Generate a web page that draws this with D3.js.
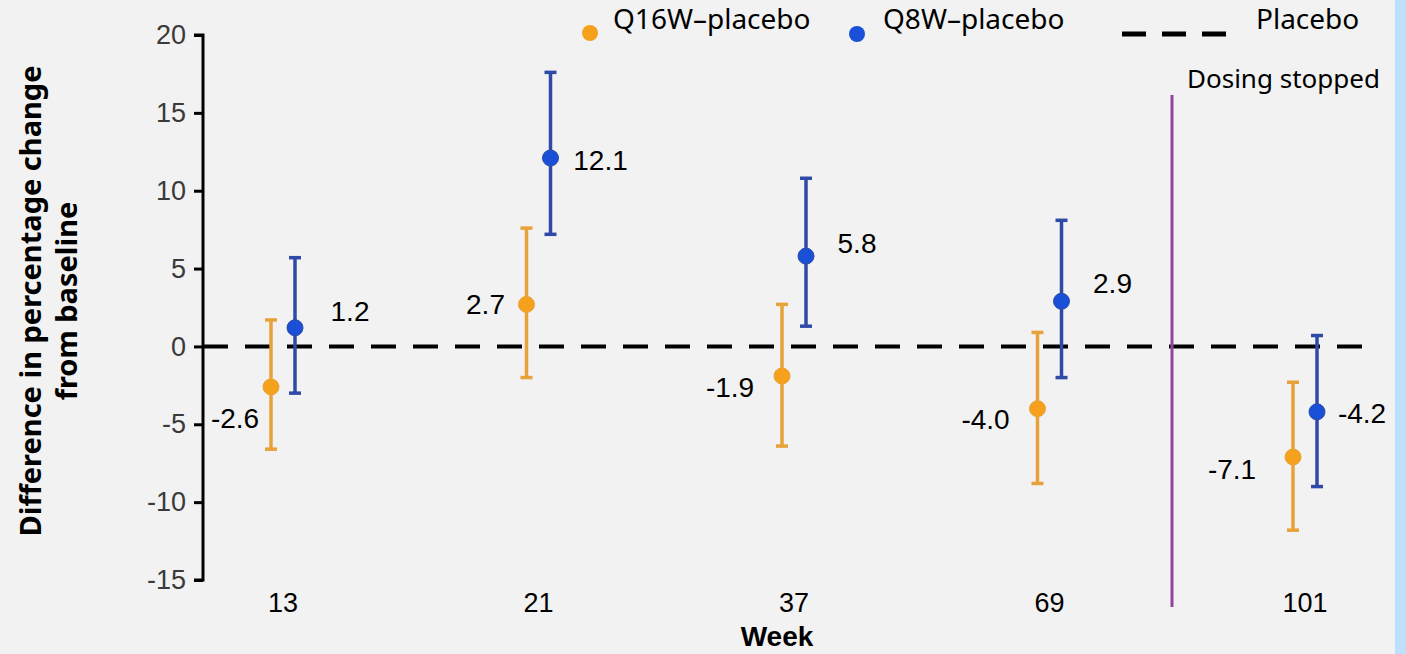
<!DOCTYPE html>
<html>
<head>
<meta charset="utf-8">
<script src="https://cdn.jsdelivr.net/npm/d3@7"></script>
<style>
  html, body { margin: 0; padding: 0; background: #f2f2f2; }
  svg { display: block; }
</style>
</head>
<body>
<div id="chart"></div>
<script>
// data
const weeks = ["13", "21", "37", "69", "101"]
const q16Est = [-2.6, 2.7, -1.9, -4.0, -7.1]
const q16Low = [-6.6, -2.0, -6.4, -8.8, -11.8]
const q16High = [1.7, 7.6, 2.7, 0.9, -2.3]
const q8Est = [1.2, 12.1, 5.8, 2.9, -4.2]
const q8Low = [-3.0, 7.2, 1.3, -2.0, -9.0]
const q8High = [5.7, 17.6, 10.8, 8.1, 0.7]
const yTicks = [-15, -10, -5, 0, 5, 10, 15, 20]

// label placement relative to each marker (layout only)
const q16LabelOff = [[-36, 31], [-41, 0], [-52, 11], [-52, 10], [-61, 12]]
const q8LabelOff = [[55, -17], [50, 2], [51, -13], [51, -18], [45, 1]]

const width = 1406, height = 654
const orange = "#f5a11c", orangeBar = "#e8a23a"
const blue = "#1a4fd8", blueBar = "#2e4aa6"
const numFont = "'Liberation Sans', Arial, sans-serif"
const textFont = "'Noto Sans', sans-serif"

const svg = d3.select("#chart").append("svg")
    .attr("width", width)
    .attr("height", height)

svg.append("rect").attr("width", width).attr("height", height).attr("fill", "#f2f2f2")
// light blue strip at the right edge
svg.append("rect").attr("x", 1395).attr("y", 0).attr("width", 11).attr("height", height).attr("fill", "#bfe0fa")

const x = d3.scalePoint().domain(weeks).range([283, 1305])
const y = d3.scaleLinear().domain([-15, 20]).range([580, 35])

// y axis
const yAxis = svg.append("g")
    .attr("transform", "translate(203,0)")
    .call(d3.axisLeft(y).tickValues(yTicks).tickSize(9).tickPadding(8).tickFormat(d => String(d)))
yAxis.select(".domain").attr("d", "M-9," + y(20) + "H0V" + y(-15) + "H-9").attr("stroke", "#000").attr("stroke-width", 3).attr("fill", "none")
yAxis.selectAll(".tick line").attr("stroke", "#000").attr("stroke-width", 3)
yAxis.selectAll(".tick text")
    .attr("fill", "#3a3a3a")
    .style("font-family", numFont)
    .style("font-size", "27px")

// y title
const yTitle = svg.append("text")
    .attr("transform", "translate(31,301) rotate(-90)")
    .attr("text-anchor", "middle")
    .style("font-family", textFont)
    .style("font-weight", "bold")
    .style("font-size", "29px")
    .attr("fill", "#000")
yTitle.append("tspan").attr("x", 0).attr("dy", "0.35em").text("Difference in percentage change")
yTitle.append("tspan").attr("x", 0).attr("dy", "1.24em").text("from baseline")

// x category labels
svg.append("g").selectAll("text")
    .data(weeks)
    .enter()
    .append("text")
    .attr("x", d => x(d))
    .attr("y", 612)
    .attr("text-anchor", "middle")
    .style("font-family", numFont)
    .style("font-size", "27px")
    .attr("fill", "#000")
    .text(d => d)

svg.append("text")
    .attr("x", 777).attr("y", 646)
    .attr("text-anchor", "middle")
    .style("font-family", numFont)
    .style("font-weight", "bold")
    .style("font-size", "28px")
    .text("Week")

// placebo reference line
svg.append("line")
    .attr("x1", 203).attr("x2", 1362)
    .attr("y1", y(0)).attr("y2", y(0))
    .attr("stroke", "#000")
    .attr("stroke-width", 4)
    .attr("stroke-dasharray", "25,17")

// dosing stopped line
svg.append("line")
    .attr("x1", 1172).attr("x2", 1172)
    .attr("y1", 95).attr("y2", 607)
    .attr("stroke", "#8f479d")
    .attr("stroke-width", 3)
svg.append("text")
    .attr("x", 1187).attr("y", 88)
    .style("font-family", textFont)
    .style("font-size", "26px")
    .text("Dosing stopped")

function drawSeries(est, low, high, offset, barColor, dotColor, labelOff){
    const g = svg.append("g")
    const cx = i => x(weeks[i]) + offset
    weeks.forEach(function(w, i){
        g.append("line")
            .attr("x1", cx(i)).attr("x2", cx(i))
            .attr("y1", y(low[i])).attr("y2", y(high[i]))
            .attr("stroke", barColor).attr("stroke-width", 3.5)
        ;[low[i], high[i]].forEach(function(v){
            g.append("line")
                .attr("x1", cx(i) - 6).attr("x2", cx(i) + 6)
                .attr("y1", y(v)).attr("y2", y(v))
                .attr("stroke", barColor).attr("stroke-width", 3.5)
        })
        g.append("circle")
            .attr("cx", cx(i)).attr("cy", y(est[i]))
            .attr("r", 8)
            .attr("fill", dotColor)
            .attr("stroke", barColor).attr("stroke-width", 1)
        g.append("text")
            .attr("x", cx(i) + labelOff[i][0])
            .attr("y", y(est[i]) + labelOff[i][1])
            .attr("dy", "0.35em")
            .attr("text-anchor", "middle")
            .style("font-family", numFont)
            .style("font-size", "28px")
            .attr("fill", "#000")
            .text(est[i].toFixed(1))
    })
}

drawSeries(q16Est, q16Low, q16High, -12, orangeBar, orange, q16LabelOff)
drawSeries(q8Est, q8Low, q8High, 12, blueBar, blue, q8LabelOff)

// legend
const legend = svg.append("g")
    .style("font-family", textFont)
    .style("font-size", "28px")
legend.append("circle").attr("cx", 590).attr("cy", 33).attr("r", 8).attr("fill", orange)
legend.append("text").attr("x", 613).attr("y", 29).text("Q16W\u2013placebo")
legend.append("circle").attr("cx", 857).attr("cy", 34).attr("r", 8).attr("fill", blue)
legend.append("text").attr("x", 883).attr("y", 29).text("Q8W\u2013placebo")
legend.append("line")
    .attr("x1", 1122).attr("x2", 1226)
    .attr("y1", 34).attr("y2", 34)
    .attr("stroke", "#000").attr("stroke-width", 5)
    .attr("stroke-dasharray", "24,16")
legend.append("text").attr("x", 1256).attr("y", 29).text("Placebo")
</script>
</body>
</html>
